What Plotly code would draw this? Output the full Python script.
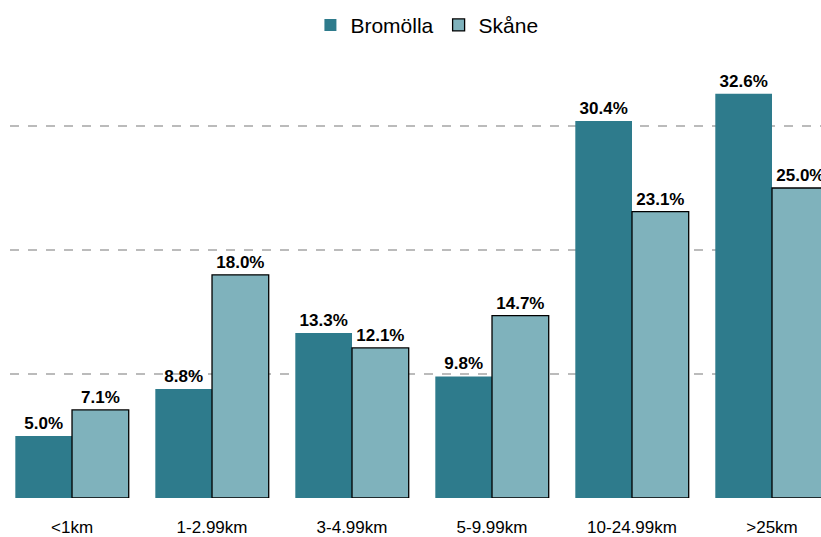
import plotly.graph_objects as go

categories = ["<1km", "1-2.99km", "3-4.99km", "5-9.99km", "10-24.99km", ">25km"]
bromolla = [5.0, 8.8, 13.3, 9.8, 30.4, 32.6]
skane = [7.1, 18.0, 12.1, 14.7, 23.1, 25.0]

font_family = "Arial, Liberation Sans, sans-serif"

fig = go.Figure()

fig.add_trace(
    go.Bar(
        x=categories,
        y=bromolla,
        name="Bromölla",
        marker=dict(color="#2E7B8C", line=dict(width=0)),
        text=[f"{v:.1f}%" for v in bromolla],
        textposition="outside",
        textfont=dict(family=font_family, size=17, color="black", weight="bold"),
        cliponaxis=False,
    )
)
fig.add_trace(
    go.Bar(
        x=categories,
        y=skane,
        name="Skåne",
        marker=dict(color="#7FB2BC", line=dict(width=1.3, color="black")),
        text=[f"{v:.1f}%" for v in skane],
        textposition="outside",
        textfont=dict(family=font_family, size=17, color="black", weight="bold"),
        cliponaxis=False,
    )
)

fig.update_layout(
    width=821,
    height=537,
    barmode="group",
    bargap=0.19,
    bargroupgap=0,
    plot_bgcolor="white",
    paper_bgcolor="white",
    margin=dict(l=10, r=0, t=64, b=39),
    font=dict(family=font_family, color="black"),
    legend=dict(
        orientation="h",
        xref="container",
        yref="container",
        x=0.52,
        y=0.953,
        xanchor="center",
        yanchor="middle",
        font=dict(size=21),
        itemwidth=30,
    ),
    xaxis=dict(
        range=[-0.443, 5.35],
        showgrid=False,
        zeroline=False,
        showline=False,
        ticks="outside",
        ticklen=14,
        tickcolor="rgba(0,0,0,0)",
        tickfont=dict(size=17),
        automargin=False,
    ),
    yaxis=dict(
        range=[0, 35],
        tickvals=[0, 10, 20, 30],
        showticklabels=False,
        showgrid=True,
        gridcolor="#BBBBBB",
        griddash="dash",
        gridwidth=1.5,
        zeroline=False,
        showline=False,
        automargin=False,
    ),
)

# drop the default body margin so the figure fills the window exactly
fig.write_html(
    "out.html",
    config={"displayModeBar": False},
    post_script="document.body.style.margin='0';document.body.style.overflow='hidden';",
)
